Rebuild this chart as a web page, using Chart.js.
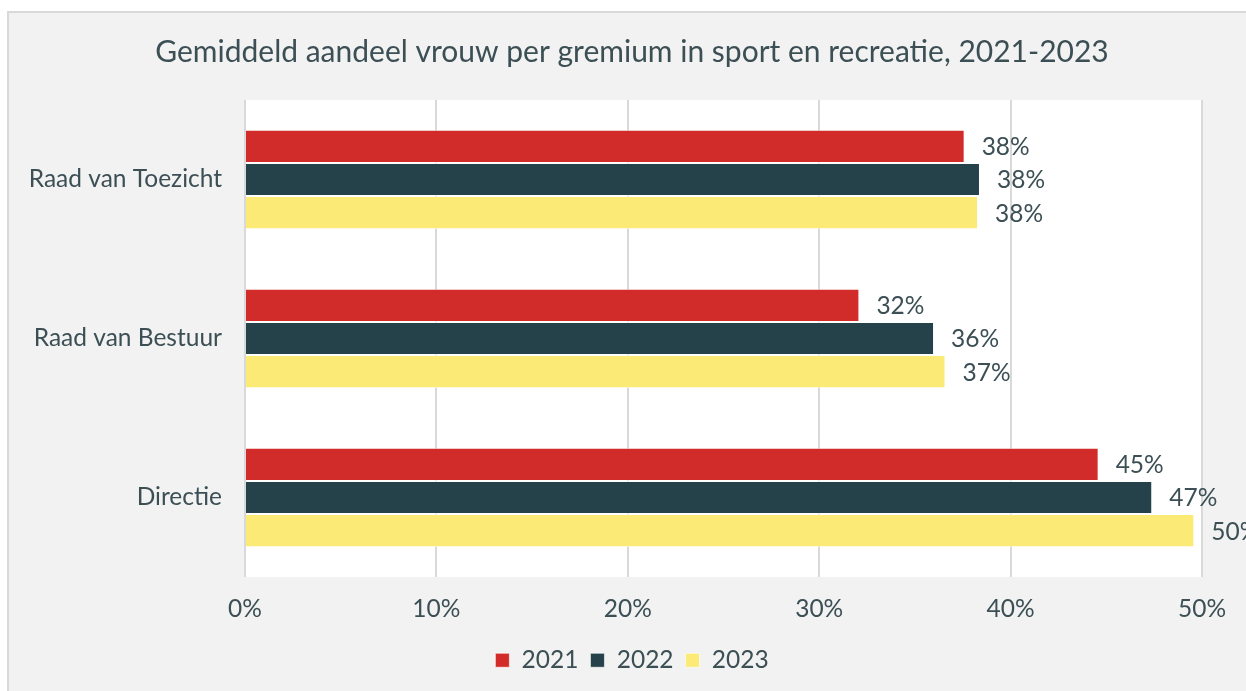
<!DOCTYPE html>
<html>
<head>
<meta charset="utf-8">
<script src="https://cdn.jsdelivr.net/npm/chart.js@4.4.1/dist/chart.umd.min.js"></script>
<style>
    html, body { margin: 0; padding: 0; background: #fff; overflow: hidden; }
    #box {
        position: absolute;
        left: 7px;
        top: 11px;
        width: 1246px;
        height: 700px;
        background: #f2f2f2;
        border: 2px solid #d9d9d9;
    }
    canvas { display: block; }
</style>
</head>
<body>
<div id="box"><canvas id="chart" width="1246" height="700"></canvas></div>
<script>
const categories = ["Raad van Toezicht", "Raad van Bestuur", "Directie"];
const years = ["2021", "2022", "2023"];
const share2021 = [37.6, 32.1, 44.6];
const share2022 = [38.4, 36.0, 47.4];
const share2023 = [38.3, 36.6, 49.6];
const xTicks = [0, 10, 20, 30, 40, 50];

const colors = ["#d22c2a", "#25424a", "#fcea77"];
const textColor = "#3b4f55";
const fontFamily = "Lato, 'Open Sans', sans-serif";
const labelSize = 24.5;

// white plot area on the grey card
const plotBackground = {
    id: "plotBackground",
    beforeDraw(chart) {
        const { ctx, chartArea: a } = chart;
        ctx.save();
        ctx.fillStyle = "#ffffff";
        ctx.fillRect(a.left, a.top, a.right - a.left, a.bottom - a.top);
        ctx.restore();
    }
};

// percentage labels right of each bar
const valueLabels = {
    id: "valueLabels",
    afterDatasetsDraw(chart) {
        const ctx = chart.ctx;
        ctx.save();
        ctx.font = labelSize + "px " + fontFamily;
        ctx.fillStyle = textColor;
        ctx.textAlign = "left";
        ctx.textBaseline = "middle";
        chart.data.datasets.forEach((ds, i) => {
            chart.getDatasetMeta(i).data.forEach((bar, j) => {
                ctx.fillText(Math.round(ds.data[j]) + "%", bar.x + 17, bar.y + 1);
            });
        });
        ctx.restore();
    }
};

new Chart(document.getElementById("chart"), {
    type: "bar",
    data: {
        labels: categories,
        datasets: [share2021, share2022, share2023].map((d, i) => ({
            label: years[i],
            data: d,
            backgroundColor: colors[i],
            borderColor: "rgba(255,255,255,0.6)",
            borderWidth: 1,
            categoryPercentage: 0.625,
            barPercentage: 1.0
        }))
    },
    options: {
        indexAxis: "y",
        responsive: false,
        animation: false,
        layout: { padding: { left: 0, right: 0, top: 0, bottom: 30.5 } },
        scales: {
            x: {
                min: 0,
                max: 50,
                afterBuildTicks: s => { s.ticks = xTicks.map(v => ({ value: v })); },
                afterFit: s => { s.height = 59; },
                grid: { color: "#d9d9d9", lineWidth: 2, drawTicks: false },
                border: { display: false },
                ticks: {
                    padding: 17,
                    color: textColor,
                    font: { family: fontFamily, size: labelSize },
                    callback: v => v + "%"
                }
            },
            y: {
                afterFit: s => { s.width = 236; },
                grid: { display: false, drawTicks: false },
                border: { display: false },
                ticks: {
                    padding: 23,
                    color: textColor,
                    font: { family: fontFamily, size: labelSize }
                }
            },
            // empty right-hand margin so the title and legend stay centred on the card
            yRight: {
                type: "category",
                position: "right",
                afterFit: s => { s.width = 53; },
                grid: { display: false, drawTicks: false },
                border: { display: false },
                ticks: { display: false }
            }
        },
        plugins: {
            title: {
                display: true,
                text: "Gemiddeld aandeel vrouw per gremium in sport en recreatie, 2021-2023",
                color: textColor,
                font: { family: fontFamily, size: 30, weight: "normal" },
                padding: { top: 21, bottom: 30 }
            },
            legend: {
                position: "bottom",
                labels: {
                    boxWidth: 14,
                    boxHeight: 14,
                    padding: 12,
                    color: textColor,
                    font: { family: fontFamily, size: labelSize }
                }
            },
            tooltip: { enabled: false }
        }
    },
    plugins: [plotBackground, valueLabels]
});
</script>
</body>
</html>
